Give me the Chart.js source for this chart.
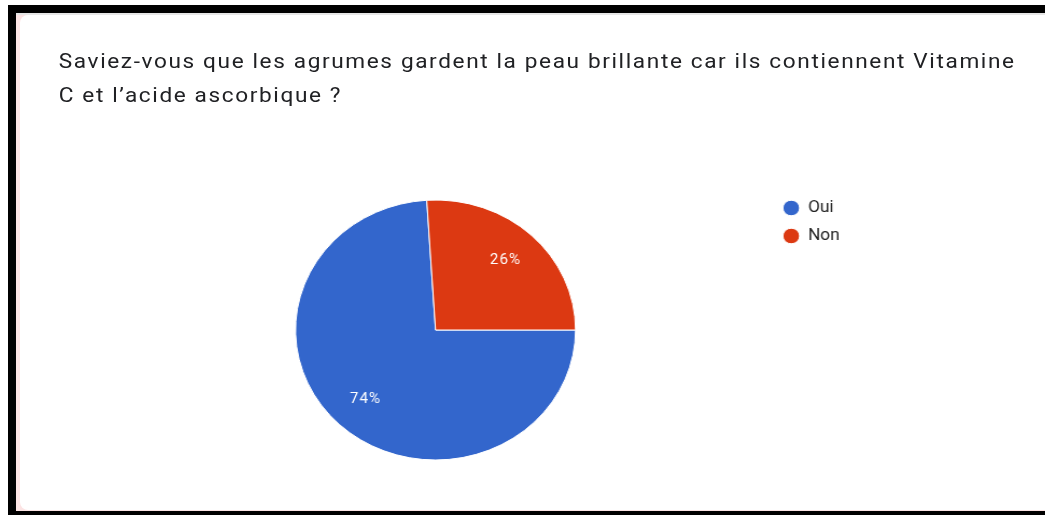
<!DOCTYPE html>
<html>
<head>
<meta charset="utf-8">
<script src="https://cdn.jsdelivr.net/npm/chart.js@4.4.1/dist/chart.umd.min.js"></script>
<style>
  html, body { margin: 0; padding: 0; background: #fff; width: 1045px; height: 515px; overflow: hidden; }
  .frame { position: absolute; left: 8px; top: 5px; width: 1037px; height: 510px; background: #000; }
  .pink { position: absolute; left: 16px; top: 13px; width: 1029px; height: 498px; background: #fce4e4; }
  .topline { position: absolute; left: 16px; top: 13px; width: 1029px; height: 2px; background: #e6e6e6; }
  .card { position: absolute; left: 20px; top: 15px; width: 1040px; height: 495px; background: #fff; border-radius: 8px 0 0 8px; }
  .stretch { position: absolute; left: 20px; top: 0; width: 952px; height: 515px; transform: scaleX(1.077); transform-origin: 0 0; }
  .title { position: absolute; left: 36px; top: 44px; font-family: Roboto, sans-serif; font-size: 21px; letter-spacing: 1.5px; line-height: 34px; color: #202124; white-space: nowrap; }
  .chartbox { position: absolute; left: 75px; top: 188px; width: 696px; height: 284px; }
</style>
</head>
<body>
<div class="frame"></div>
<div class="pink"></div>
<div class="topline"></div>
<div class="card"></div>
<div class="stretch">
  <div class="title">Saviez-vous que les agrumes gardent la peau brillante car ils contiennent Vitamine<br>C et l’acide ascorbique ?</div>
  <div class="chartbox"><canvas id="pie"></canvas></div>
</div>
<script>
// Answers and their share of responses (%)
const answers = ['Oui', 'Non'];
const shares = [74, 26];
const sliceColors = ['#3366cc', '#dc3912'];

// Write the percentage inside each slice
const sliceLabels = {
    id: 'sliceLabels',
    afterDatasetsDraw(chart) {
        const ctx = chart.ctx;
        const meta = chart.getDatasetMeta(0);
        const total = shares.reduce((a, b) => a + b, 0);
        ctx.save();
        ctx.font = '14px Roboto, sans-serif';
        ctx.letterSpacing = '1px';
        ctx.fillStyle = '#ffffff';
        ctx.textAlign = 'center';
        ctx.textBaseline = 'middle';
        meta.data.forEach((arc, i) => {
            const p = arc.getProps(['x', 'y', 'startAngle', 'endAngle', 'outerRadius'], true);
            const mid = (p.startAngle + p.endAngle) / 2;
            const r = p.outerRadius * 0.73;
            const pct = Math.round(shares[i] / total * 100) + '%';
            ctx.fillText(pct, p.x + Math.cos(mid) * r, p.y + Math.sin(mid) * r);
        });
        ctx.restore();
    }
};

new Chart(document.getElementById('pie'), {
    type: 'pie',
    data: {
        labels: answers,
        datasets: [{
            data: shares,
            backgroundColor: sliceColors,
            borderColor: '#ffffff',
            borderWidth: 1,
            radius: 130
        }]
    },
    options: {
        responsive: true,
        maintainAspectRatio: false,
        animation: false,
        rotation: 90,
        plugins: {
            legend: {
                position: 'right',
                align: 'start',
                labels: {
                    usePointStyle: true,
                    pointStyle: 'circle',
                    boxWidth: 15,
                    boxHeight: 11,
                    padding: 12,
                    color: '#222222',
                    font: { family: 'Roboto, sans-serif', size: 16 }
                }
            },
            tooltip: { enabled: false }
        }
    },
    plugins: [sliceLabels]
});
</script>
</body>
</html>
